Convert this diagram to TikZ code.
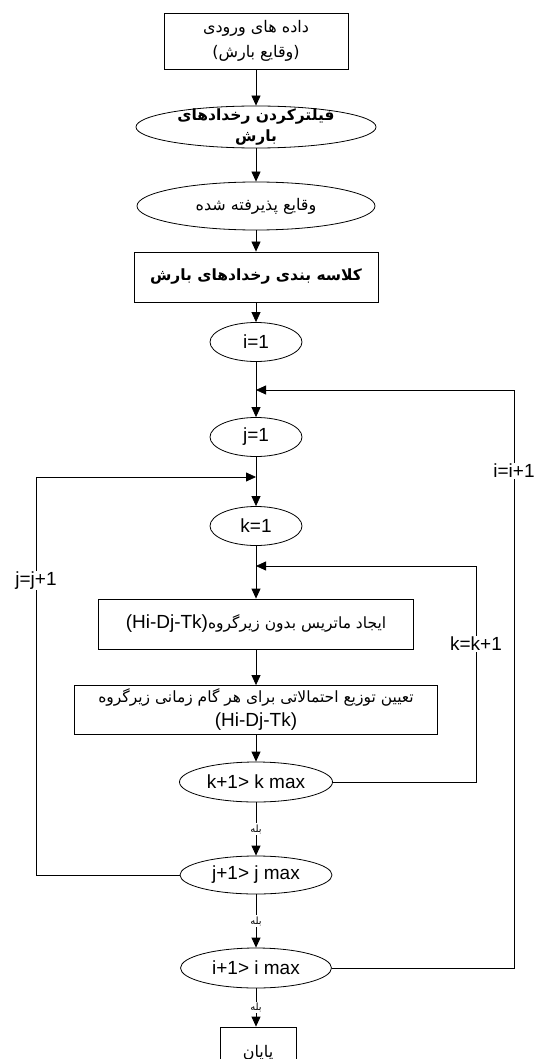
\documentclass[tikz,border=0pt]{standalone}
\usepackage{fontspec}
\setmainfont{Liberation Sans}
\newfontfamily\farsi[Script=Arabic]{DejaVu Sans}
\TeXXeTstate=1
\usetikzlibrary{positioning,shapes.geometric,arrows.meta}
\newcommand\fatxt[1]{{\farsi\beginR #1\endR}}
\newcommand\lattxt[1]{\beginL{\normalfont\fontsize{19}{23}\selectfont #1}\endL}
\tikzset{
  procbox/.style={draw, rectangle, inner sep=0pt, align=center},
  stateell/.style={draw, ellipse, inner sep=0pt, align=center},
  looplbl/.style={fill=white, inner sep=1pt},
  yeslbl/.style={fill=white, inner sep=1pt, font=\fontsize{10}{12}\selectfont},
}
\begin{document}
\begin{tikzpicture}[x=1pt, y=-1pt, line width=0.8pt,
    font=\fontsize{19}{23}\selectfont,
    >={Triangle[length=10pt,width=9pt]}]
\useasboundingbox (0,0) rectangle (537,1059);

% main column
\node[procbox, minimum width=184pt, minimum height=56pt,
      font=\fontsize{16}{25}\selectfont] (input) at (256,41)
      {\fatxt{داده های ورودی}\\\fatxt{(وقایع بارش)}};
\node[stateell, minimum width=240pt, minimum height=42pt,
      label={[align=center, font=\bfseries\fontsize{15.5}{21}\selectfont]center:{\fatxt{فیلترکردن رخدادهای}\\\fatxt{بارش}}}]
      (filter) at (256,127) {};
\node[stateell, minimum width=238pt, minimum height=48pt,
      font=\fontsize{16}{18}\selectfont] (accept) at (256,206)
      {\fatxt{وقایع پذیرفته شده}};
\node[procbox, minimum width=244pt, minimum height=50pt,
      font=\bfseries\fontsize{15.5}{18}\selectfont] (classify) at (256,277)
      {\fatxt{کلاسه بندی رخدادهای بارش}};
\node[stateell, minimum width=92pt, minimum height=39pt] (iinit) at (256,342) {i=1};
\node[stateell, minimum width=92pt, minimum height=39pt] (jinit) at (256,437) {j=1};
\node[stateell, minimum width=92pt, minimum height=39pt] (kinit) at (256,526) {k=1};
\node[procbox, minimum width=315pt, minimum height=50pt,
      font=\fontsize{15.5}{18}\selectfont] (buildmat) at (256,624)
      {\fatxt{ایجاد ماتریس بدون زیرگروه\lattxt{(Hi-Dj-Tk)}}};
\node[procbox, minimum width=363pt, minimum height=49pt,
      font=\fontsize{15.5}{24}\selectfont] (distrib) at (256,710)
      {\fatxt{تعیین توزیع احتمالاتی  برای هر گام زمانی زیرگروه}\\\lattxt{(Hi-Dj-Tk)}};
\node[stateell, minimum width=153pt, minimum height=40pt] (kcheck) at (256,782) {k+1> k max};
\node[stateell, minimum width=152pt, minimum height=38pt] (jcheck) at (256,875) {j+1> j max};
\node[stateell, minimum width=151pt, minimum height=40pt] (icheck) at (256,968) {i+1> i max};
\node[procbox, minimum width=76pt, minimum height=52pt,
      font=\fontsize{16}{18}\selectfont] (finish) at (258,1053) {\fatxt{پایان}};

% loop joints
\coordinate (iret) at (256,390);
\coordinate (icorner) at (514,390);
\coordinate (jret) at (256,477);
\coordinate (jcorner) at (36,477);
\coordinate (kret) at (256,566);
\coordinate (kcorner) at (476,566);

\draw[->] (input) -- (filter);
\draw[->] (filter) -- (accept);
\draw[->] (accept) -- (classify);
\draw[->] (classify) -- (iinit);
\draw[->] (iinit) -- (jinit);
\draw[->] (jinit) -- (kinit);
\draw[->] (kinit) -- (buildmat);
\draw[->] (buildmat) -- (distrib);
\draw[->] (distrib) -- (kcheck);
\draw[->] (kcheck) -- node[yeslbl] {\fatxt{بله}} (jcheck);
\draw[->] (jcheck) -- node[yeslbl] {\fatxt{بله}} (icheck);
\draw[->] (icheck.south) -- node[yeslbl] {\fatxt{بله}} (icheck.south |- finish.north);

% feedback loops
\draw[->] (kcheck.east) -| node[pos=0.82, looplbl] {k=k+1} (kcorner) -- (kret);
\draw[->] (jcheck.west) -| node[pos=0.87, looplbl] {j=j+1} (jcorner) -- (jret);
\draw[->] (icheck.east) -| node[pos=0.93, looplbl] {i=i+1} (icorner) -- (iret);
\end{tikzpicture}
\end{document}
